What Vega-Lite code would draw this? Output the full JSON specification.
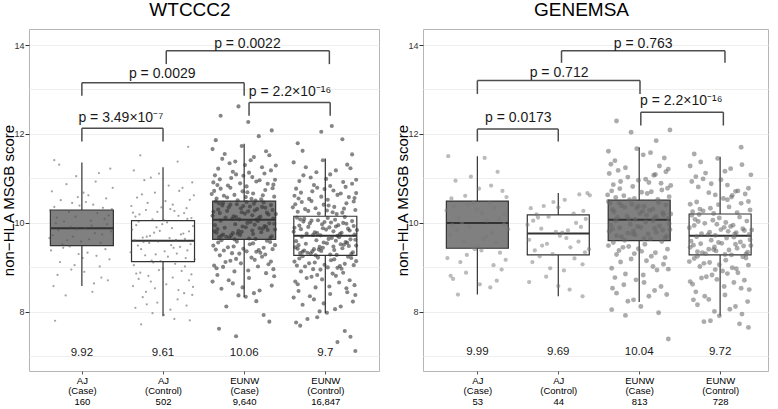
{
"$schema":"https://vega.github.io/schema/vega-lite/v6.json",
"padding":{"left":0,"top":0,"right":2,"bottom":0},
"background":"white",
"spacing":14,
"config":{"font":"Liberation Sans","view":{"stroke":"#b5b5b5","strokeWidth":1}},
"datasets":{
"wb":[{"x":1,"lo":8.58,"q1":9.49,"md":9.88,"q3":10.29,"hi":11.36,"f":"case","lab":"9.92"},{"x":2,"lo":7.9,"q1":9.13,"md":9.6,"q3":10.05,"hi":11.25,"f":"ctrl","lab":"9.61"},{"x":3,"lo":8.33,"q1":9.63,"md":10.07,"q3":10.49,"hi":11.78,"f":"case","lab":"10.06"},{"x":4,"lo":7.97,"q1":9.27,"md":9.71,"q3":10.15,"hi":11.45,"f":"ctrl","lab":"9.7"}],
"gb":[{"x":1,"lo":8.39,"q1":9.43,"md":10.0,"q3":10.49,"hi":11.5,"f":"case","lab":"9.99"},{"x":2,"lo":8.35,"q1":9.28,"md":9.76,"q3":10.18,"hi":10.67,"f":"ctrl","lab":"9.69"},{"x":3,"lo":8.22,"q1":9.6,"md":10.07,"q3":10.51,"hi":11.7,"f":"case","lab":"10.04"},{"x":4,"lo":7.91,"q1":9.28,"md":9.71,"q3":10.2,"hi":11.49,"f":"ctrl","lab":"9.72"}],
"wk":[{"a":1,"b":2,"y":12.13,"y2":11.83,"tx":1.48,"ty":12.26,"t":"p = 3.49×10⁻⁷"},{"a":3.06,"b":4.06,"y":12.71,"y2":12.41,"tx":3.565,"ty":12.86,"t":"p = 2.2×10⁻¹⁶"},{"a":1,"b":3,"y":13.15,"y2":12.86,"tx":1.99,"ty":13.25,"t":"p = 0.0029"},{"a":2.04,"b":4.05,"y":13.87,"y2":13.57,"tx":3.04,"ty":13.93,"t":"p = 0.0022"}],
"gk":[{"a":1,"b":2,"y":12.11,"y2":11.83,"tx":1.506,"ty":12.26,"t":"p = 0.0173"},{"a":3.02,"b":4.04,"y":12.49,"y2":12.19,"tx":3.52,"ty":12.65,"t":"p = 2.2×10⁻¹⁶"},{"a":1,"b":3.01,"y":13.2,"y2":12.9,"tx":2.01,"ty":13.27,"t":"p = 0.712"},{"a":2.04,"b":4.06,"y":13.87,"y2":13.6,"tx":3.05,"ty":13.94,"t":"p = 0.763"}],
"w1":[{"x":0.72,"v":11.31},{"x":1.21,"v":11.12},{"x":0.93,"v":11.05},{"x":1.35,"v":11.22},{"x":0.66,"v":11.41},{"x":1.08,"v":10.62},{"x":0.81,"v":10.87},{"x":1.3,"v":10.55},{"x":0.63,"v":10.71},{"x":1.17,"v":10.93},{"x":0.95,"v":10.58},{"x":1.38,"v":10.79},{"x":0.74,"v":10.51},{"x":1.02,"v":10.68},{"x":0.69,"v":10.12},{"x":1.26,"v":10.34},{"x":0.88,"v":10.45},{"x":1.11,"v":10.05},{"x":0.61,"v":10.28},{"x":1.33,"v":10.17},{"x":0.97,"v":10.39},{"x":1.19,"v":10.22},{"x":0.78,"v":10.03},{"x":1.05,"v":10.47},{"x":0.66,"v":10.36},{"x":1.28,"v":10.09},{"x":0.84,"v":10.25},{"x":1.14,"v":10.41},{"x":0.92,"v":10.14},{"x":1.37,"v":10.31},{"x":0.64,"v":9.72},{"x":1.23,"v":9.55},{"x":0.86,"v":9.91},{"x":1.09,"v":9.63},{"x":0.71,"v":9.84},{"x":1.31,"v":9.97},{"x":0.99,"v":9.58},{"x":1.16,"v":9.77},{"x":0.76,"v":9.52},{"x":1.04,"v":9.88},{"x":0.6,"v":9.66},{"x":1.36,"v":9.81},{"x":0.89,"v":9.69},{"x":1.12,"v":9.94},{"x":0.82,"v":9.61},{"x":1.25,"v":9.74},{"x":0.94,"v":9.86},{"x":0.68,"v":9.99},{"x":1.07,"v":9.33},{"x":0.73,"v":9.12},{"x":1.29,"v":9.41},{"x":0.91,"v":9.05},{"x":1.18,"v":9.26},{"x":0.62,"v":9.38},{"x":1.34,"v":9.18},{"x":0.85,"v":9.47},{"x":1.01,"v":9.21},{"x":0.77,"v":9.44},{"x":1.22,"v":9.02},{"x":0.96,"v":9.3},{"x":0.7,"v":8.83},{"x":1.15,"v":8.64},{"x":0.87,"v":8.95},{"x":1.32,"v":8.71},{"x":0.65,"v":8.58},{"x":1.03,"v":8.9},{"x":1.24,"v":8.77},{"x":0.8,"v":8.37},{"x":1.13,"v":8.45},{"x":0.67,"v":7.8}],
"w2":[{"x":1.72,"v":11.52},{"x":2.18,"v":11.38},{"x":2.31,"v":11.71},{"x":1.85,"v":11.02},{"x":2.07,"v":10.84},{"x":1.64,"v":11.18},{"x":2.36,"v":10.91},{"x":1.95,"v":11.11},{"x":2.24,"v":10.79},{"x":1.77,"v":10.96},{"x":2.12,"v":10.41},{"x":1.68,"v":10.57},{"x":2.29,"v":10.33},{"x":1.9,"v":10.68},{"x":2.03,"v":10.49},{"x":1.61,"v":10.38},{"x":2.38,"v":10.62},{"x":1.81,"v":10.45},{"x":2.2,"v":10.72},{"x":1.98,"v":10.35},{"x":2.33,"v":10.52},{"x":1.74,"v":10.64},{"x":2.09,"v":10.31},{"x":1.66,"v":10.14},{"x":2.26,"v":10.22},{"x":1.87,"v":10.08},{"x":2.14,"v":10.27},{"x":1.71,"v":10.19},{"x":2.35,"v":10.11},{"x":1.93,"v":10.25},{"x":2.01,"v":10.06},{"x":1.79,"v":10.29},{"x":2.19,"v":10.16},{"x":1.63,"v":10.23},{"x":2.3,"v":10.09},{"x":1.84,"v":9.71},{"x":2.11,"v":9.88},{"x":1.67,"v":9.95},{"x":2.27,"v":9.64},{"x":1.96,"v":9.82},{"x":2.05,"v":10.01},{"x":1.75,"v":9.67},{"x":2.37,"v":9.93},{"x":1.89,"v":9.78},{"x":2.16,"v":9.62},{"x":1.62,"v":9.85},{"x":2.22,"v":9.74},{"x":1.99,"v":9.97},{"x":1.8,"v":9.69},{"x":2.32,"v":9.81},{"x":1.7,"v":10.03},{"x":2.08,"v":9.66},{"x":1.92,"v":9.9},{"x":2.25,"v":9.76},{"x":1.65,"v":9.61},{"x":2.13,"v":9.44},{"x":1.78,"v":9.27},{"x":2.34,"v":9.52},{"x":1.86,"v":9.15},{"x":2.02,"v":9.36},{"x":1.69,"v":9.49},{"x":2.28,"v":9.21},{"x":1.94,"v":9.58},{"x":2.17,"v":9.31},{"x":1.73,"v":9.41},{"x":2.39,"v":9.18},{"x":1.83,"v":9.55},{"x":2.06,"v":9.24},{"x":1.6,"v":9.34},{"x":2.21,"v":9.46},{"x":1.97,"v":9.14},{"x":1.76,"v":9.57},{"x":2.3,"v":9.38},{"x":1.91,"v":9.29},{"x":2.1,"v":9.5},{"x":1.64,"v":9.05},{"x":2.23,"v":8.92},{"x":1.88,"v":9.11},{"x":2.35,"v":8.84},{"x":2.0,"v":8.97},{"x":1.72,"v":8.88},{"x":2.15,"v":9.08},{"x":1.82,"v":8.81},{"x":2.27,"v":9.02},{"x":1.95,"v":8.94},{"x":1.67,"v":8.86},{"x":2.04,"v":8.62},{"x":1.79,"v":8.45},{"x":2.32,"v":8.71},{"x":1.9,"v":8.53},{"x":2.12,"v":8.77},{"x":1.63,"v":8.58},{"x":2.26,"v":8.42},{"x":1.85,"v":8.68},{"x":2.19,"v":8.49},{"x":1.7,"v":8.74},{"x":2.37,"v":8.56},{"x":1.93,"v":8.21},{"x":2.09,"v":8.05},{"x":1.75,"v":8.33},{"x":2.29,"v":8.14},{"x":1.87,"v":7.97},{"x":2.18,"v":8.28},{"x":1.66,"v":8.09},{"x":2.36,"v":8.38},{"x":2.01,"v":7.93},{"x":1.8,"v":8.17},{"x":2.14,"v":7.84},{"x":1.73,"v":7.72},{"x":2.33,"v":7.81}],
"w3":[{"x":2.71,"v":12.41},{"x":3.18,"v":11.95},{"x":2.93,"v":12.62},{"x":3.34,"v":12.08},{"x":2.65,"v":11.86},{"x":3.05,"v":12.27},{"x":2.82,"v":11.34},{"x":3.27,"v":11.61},{"x":2.68,"v":11.22},{"x":3.12,"v":11.48},{"x":2.97,"v":11.73},{"x":3.39,"v":11.29},{"x":2.76,"v":11.55},{"x":3.08,"v":11.41},{"x":2.61,"v":11.66},{"x":3.22,"v":11.25},{"x":2.89,"v":11.38},{"x":3.31,"v":11.52},{"x":3.01,"v":11.3},{"x":2.73,"v":11.44},{"x":3.15,"v":10.93},{"x":2.64,"v":11.07},{"x":3.36,"v":10.86},{"x":2.86,"v":11.15},{"x":3.03,"v":10.82},{"x":2.7,"v":10.98},{"x":3.25,"v":11.11},{"x":2.95,"v":10.89},{"x":3.1,"v":11.03},{"x":2.62,"v":10.91},{"x":3.33,"v":11.18},{"x":2.8,"v":10.84},{"x":3.19,"v":10.96},{"x":2.9,"v":11.09},{"x":3.38,"v":10.97},{"x":2.67,"v":10.85},{"x":3.06,"v":11.13},{"x":2.84,"v":11.01},{"x":3.29,"v":10.88},{"x":2.99,"v":11.06},{"x":2.75,"v":10.61},{"x":3.21,"v":10.53},{"x":2.63,"v":10.72},{"x":3.11,"v":10.66},{"x":2.92,"v":10.51},{"x":3.35,"v":10.78},{"x":2.79,"v":10.57},{"x":3.04,"v":10.69},{"x":2.66,"v":10.55},{"x":3.26,"v":10.74},{"x":2.88,"v":10.63},{"x":3.14,"v":10.5},{"x":2.71,"v":10.77},{"x":3.37,"v":10.59},{"x":2.98,"v":10.71},{"x":3.09,"v":10.54},{"x":2.6,"v":10.65},{"x":3.23,"v":10.62},{"x":2.83,"v":10.79},{"x":3.02,"v":10.58},{"x":2.77,"v":10.12},{"x":3.16,"v":10.31},{"x":2.69,"v":10.44},{"x":3.3,"v":10.19},{"x":2.94,"v":10.08},{"x":3.07,"v":10.37},{"x":2.62,"v":10.25},{"x":3.24,"v":10.46},{"x":2.87,"v":10.15},{"x":3.13,"v":10.28},{"x":2.73,"v":10.39},{"x":3.36,"v":10.1},{"x":2.96,"v":10.33},{"x":3.01,"v":10.21},{"x":2.65,"v":10.48},{"x":3.2,"v":10.14},{"x":2.81,"v":10.35},{"x":3.28,"v":10.23},{"x":2.91,"v":10.42},{"x":3.1,"v":10.17},{"x":2.68,"v":10.3},{"x":3.33,"v":10.4},{"x":2.85,"v":10.09},{"x":3.05,"v":10.26},{"x":2.74,"v":10.45},{"x":3.18,"v":10.11},{"x":2.99,"v":10.38},{"x":3.39,"v":10.2},{"x":2.61,"v":10.16},{"x":3.12,"v":10.43},{"x":2.79,"v":10.27},{"x":3.26,"v":10.34},{"x":2.9,"v":10.13},{"x":3.03,"v":10.47},{"x":2.7,"v":10.22},{"x":3.35,"v":10.29},{"x":2.83,"v":10.41},{"x":3.15,"v":10.07},{"x":2.97,"v":10.24},{"x":3.22,"v":10.36},{"x":2.72,"v":9.71},{"x":3.19,"v":9.88},{"x":2.64,"v":9.95},{"x":3.32,"v":9.66},{"x":2.93,"v":9.82},{"x":3.08,"v":10.02},{"x":2.78,"v":9.69},{"x":3.25,"v":9.93},{"x":2.86,"v":9.77},{"x":3.14,"v":9.64},{"x":2.67,"v":9.86},{"x":3.37,"v":9.98},{"x":2.95,"v":9.73},{"x":3.02,"v":9.9},{"x":2.71,"v":10.05},{"x":3.21,"v":9.79},{"x":2.82,"v":9.67},{"x":3.29,"v":9.84},{"x":2.89,"v":9.97},{"x":3.11,"v":9.75},{"x":2.63,"v":9.81},{"x":3.34,"v":9.7},{"x":2.98,"v":9.92},{"x":3.06,"v":9.65},{"x":2.76,"v":9.89},{"x":3.17,"v":10.04},{"x":2.92,"v":9.76},{"x":3.38,"v":9.85},{"x":2.69,"v":9.68},{"x":3.13,"v":9.96},{"x":2.84,"v":9.72},{"x":3.27,"v":9.91},{"x":2.97,"v":9.8},{"x":3.04,"v":10.0},{"x":2.74,"v":9.74},{"x":3.23,"v":9.87},{"x":2.88,"v":9.63},{"x":3.31,"v":9.99},{"x":2.66,"v":9.78},{"x":3.1,"v":9.83},{"x":2.8,"v":9.45},{"x":3.2,"v":9.33},{"x":2.68,"v":9.56},{"x":3.35,"v":9.41},{"x":2.94,"v":9.31},{"x":3.07,"v":9.52},{"x":2.75,"v":9.38},{"x":3.28,"v":9.6},{"x":2.87,"v":9.47},{"x":3.15,"v":9.35},{"x":2.62,"v":9.49},{"x":3.32,"v":9.57},{"x":2.99,"v":9.42},{"x":3.03,"v":9.36},{"x":2.72,"v":9.61},{"x":3.24,"v":9.44},{"x":2.85,"v":9.32},{"x":3.11,"v":9.54},{"x":2.65,"v":9.4},{"x":3.38,"v":9.5},{"x":2.91,"v":9.58},{"x":3.18,"v":9.39},{"x":2.77,"v":9.12},{"x":3.22,"v":9.24},{"x":2.66,"v":8.98},{"x":3.3,"v":9.07},{"x":2.9,"v":9.19},{"x":3.05,"v":8.93},{"x":2.7,"v":9.27},{"x":3.17,"v":9.02},{"x":2.83,"v":9.15},{"x":3.36,"v":8.96},{"x":2.96,"v":9.09},{"x":3.09,"v":9.22},{"x":2.63,"v":9.04},{"x":3.26,"v":9.29},{"x":2.88,"v":8.91},{"x":3.13,"v":9.17},{"x":2.74,"v":9.01},{"x":3.33,"v":9.13},{"x":2.81,"v":8.71},{"x":3.19,"v":8.48},{"x":2.67,"v":8.83},{"x":3.34,"v":8.59},{"x":2.93,"v":8.37},{"x":3.06,"v":8.76},{"x":2.72,"v":8.52},{"x":3.27,"v":8.87},{"x":2.86,"v":8.64},{"x":3.12,"v":8.42},{"x":2.61,"v":8.68},{"x":3.37,"v":8.8},{"x":2.98,"v":8.55},{"x":3.02,"v":8.34},{"x":2.78,"v":8.12},{"x":3.24,"v":7.93},{"x":2.69,"v":7.62},{"x":3.15,"v":8.24},{"x":2.9,"v":7.45},{"x":3.31,"v":7.78}],
"w4":[{"x":3.72,"v":11.62},{"x":4.21,"v":11.88},{"x":3.95,"v":12.05},{"x":4.33,"v":11.54},{"x":3.66,"v":11.79},{"x":4.08,"v":12.18},{"x":3.82,"v":11.02},{"x":4.27,"v":11.31},{"x":3.68,"v":10.94},{"x":4.13,"v":11.18},{"x":3.97,"v":11.41},{"x":4.38,"v":10.97},{"x":3.76,"v":11.25},{"x":4.06,"v":11.09},{"x":3.61,"v":11.36},{"x":4.22,"v":10.92},{"x":3.89,"v":11.14},{"x":4.31,"v":11.23},{"x":4.01,"v":10.99},{"x":3.73,"v":11.07},{"x":4.15,"v":10.63},{"x":3.64,"v":10.77},{"x":4.36,"v":10.56},{"x":3.86,"v":10.85},{"x":4.03,"v":10.52},{"x":3.7,"v":10.68},{"x":4.25,"v":10.81},{"x":3.95,"v":10.59},{"x":4.1,"v":10.73},{"x":3.62,"v":10.61},{"x":4.33,"v":10.88},{"x":3.8,"v":10.54},{"x":4.19,"v":10.66},{"x":3.9,"v":10.79},{"x":4.38,"v":10.67},{"x":3.67,"v":10.55},{"x":4.06,"v":10.83},{"x":3.84,"v":10.71},{"x":4.29,"v":10.58},{"x":3.99,"v":10.76},{"x":3.75,"v":10.31},{"x":4.21,"v":10.23},{"x":3.63,"v":10.42},{"x":4.11,"v":10.36},{"x":3.92,"v":10.21},{"x":4.35,"v":10.48},{"x":3.79,"v":10.27},{"x":4.04,"v":10.39},{"x":3.66,"v":10.25},{"x":4.26,"v":10.44},{"x":3.88,"v":10.33},{"x":4.14,"v":10.2},{"x":3.71,"v":10.47},{"x":4.37,"v":10.29},{"x":3.98,"v":10.41},{"x":4.09,"v":10.24},{"x":3.6,"v":10.35},{"x":4.23,"v":10.32},{"x":3.83,"v":10.49},{"x":4.02,"v":10.28},{"x":3.77,"v":9.76},{"x":4.16,"v":9.95},{"x":3.69,"v":10.08},{"x":4.3,"v":9.83},{"x":3.94,"v":9.72},{"x":4.07,"v":10.01},{"x":3.62,"v":9.89},{"x":4.24,"v":10.13},{"x":3.87,"v":9.79},{"x":4.13,"v":9.92},{"x":3.73,"v":10.03},{"x":4.36,"v":9.74},{"x":3.96,"v":9.97},{"x":4.01,"v":9.85},{"x":3.65,"v":10.12},{"x":4.2,"v":9.78},{"x":3.81,"v":9.99},{"x":4.28,"v":9.87},{"x":3.91,"v":10.06},{"x":4.1,"v":9.81},{"x":3.68,"v":9.94},{"x":4.33,"v":10.04},{"x":3.85,"v":9.73},{"x":4.05,"v":9.9},{"x":3.74,"v":10.09},{"x":4.18,"v":9.75},{"x":3.99,"v":10.02},{"x":4.39,"v":9.84},{"x":3.61,"v":9.8},{"x":4.12,"v":10.07},{"x":3.79,"v":9.91},{"x":4.26,"v":9.98},{"x":3.9,"v":9.77},{"x":4.03,"v":10.11},{"x":3.7,"v":9.86},{"x":4.35,"v":9.93},{"x":3.83,"v":10.05},{"x":4.15,"v":9.71},{"x":3.97,"v":9.88},{"x":4.22,"v":10.0},{"x":3.72,"v":9.35},{"x":4.19,"v":9.52},{"x":3.64,"v":9.59},{"x":4.32,"v":9.3},{"x":3.93,"v":9.46},{"x":4.08,"v":9.66},{"x":3.78,"v":9.33},{"x":4.25,"v":9.57},{"x":3.86,"v":9.41},{"x":4.14,"v":9.28},{"x":3.67,"v":9.5},{"x":4.37,"v":9.62},{"x":3.95,"v":9.37},{"x":4.02,"v":9.54},{"x":3.71,"v":9.69},{"x":4.21,"v":9.43},{"x":3.82,"v":9.31},{"x":4.29,"v":9.48},{"x":3.89,"v":9.61},{"x":4.11,"v":9.39},{"x":3.63,"v":9.45},{"x":4.34,"v":9.34},{"x":3.98,"v":9.56},{"x":4.06,"v":9.29},{"x":3.76,"v":9.53},{"x":4.17,"v":9.68},{"x":3.92,"v":9.4},{"x":4.38,"v":9.49},{"x":3.69,"v":9.32},{"x":4.13,"v":9.6},{"x":3.84,"v":9.36},{"x":4.27,"v":9.55},{"x":3.97,"v":9.44},{"x":4.04,"v":9.64},{"x":3.74,"v":9.38},{"x":4.23,"v":9.51},{"x":3.88,"v":9.27},{"x":4.31,"v":9.63},{"x":3.66,"v":9.42},{"x":4.1,"v":9.47},{"x":3.8,"v":9.09},{"x":4.2,"v":8.97},{"x":3.68,"v":9.2},{"x":4.35,"v":9.05},{"x":3.94,"v":8.95},{"x":4.07,"v":9.16},{"x":3.75,"v":9.02},{"x":4.28,"v":9.24},{"x":3.87,"v":9.11},{"x":4.15,"v":8.99},{"x":3.62,"v":9.13},{"x":4.32,"v":9.21},{"x":3.99,"v":9.06},{"x":4.03,"v":9.0},{"x":3.72,"v":9.25},{"x":4.24,"v":9.08},{"x":3.85,"v":8.96},{"x":4.11,"v":9.18},{"x":3.65,"v":9.04},{"x":4.38,"v":9.14},{"x":3.91,"v":9.22},{"x":4.18,"v":9.03},{"x":3.77,"v":8.76},{"x":4.22,"v":8.88},{"x":3.66,"v":8.62},{"x":4.3,"v":8.71},{"x":3.9,"v":8.83},{"x":4.05,"v":8.57},{"x":3.7,"v":8.91},{"x":4.17,"v":8.66},{"x":3.83,"v":8.79},{"x":4.36,"v":8.6},{"x":3.96,"v":8.73},{"x":4.09,"v":8.86},{"x":3.63,"v":8.68},{"x":4.26,"v":8.53},{"x":3.88,"v":8.55},{"x":4.13,"v":8.81},{"x":3.81,"v":8.35},{"x":4.19,"v":8.12},{"x":3.67,"v":8.47},{"x":4.34,"v":8.23},{"x":3.93,"v":8.01},{"x":4.06,"v":8.4},{"x":3.72,"v":8.16},{"x":4.27,"v":8.44},{"x":3.86,"v":8.28},{"x":4.12,"v":8.06},{"x":3.61,"v":8.32},{"x":4.37,"v":8.38},{"x":3.98,"v":8.19},{"x":4.02,"v":7.98},{"x":3.78,"v":7.84},{"x":4.24,"v":7.57},{"x":3.69,"v":7.69},{"x":4.15,"v":7.32},{"x":3.9,"v":7.88},{"x":4.31,"v":7.44},{"x":4.37,"v":7.12},{"x":3.64,"v":7.76}],
"g1":[{"x":0.64,"v":11.5},{"x":1.09,"v":11.46},{"x":1.25,"v":11.15},{"x":0.92,"v":11.04},{"x":0.73,"v":10.95},{"x":1.31,"v":10.72},{"x":0.85,"v":10.61},{"x":1.17,"v":10.84},{"x":0.68,"v":10.55},{"x":1.02,"v":10.77},{"x":1.36,"v":10.58},{"x":0.77,"v":10.12},{"x":1.21,"v":10.34},{"x":0.95,"v":10.45},{"x":1.12,"v":10.05},{"x":0.62,"v":10.28},{"x":1.34,"v":10.19},{"x":0.88,"v":10.4},{"x":1.06,"v":10.22},{"x":0.71,"v":10.37},{"x":1.27,"v":10.09},{"x":0.99,"v":10.3},{"x":1.15,"v":10.44},{"x":0.81,"v":10.01},{"x":0.66,"v":9.72},{"x":1.23,"v":9.55},{"x":0.9,"v":9.91},{"x":1.07,"v":9.63},{"x":0.75,"v":9.84},{"x":1.33,"v":9.97},{"x":1.0,"v":9.48},{"x":1.18,"v":9.77},{"x":0.83,"v":9.58},{"x":1.38,"v":9.86},{"x":0.69,"v":9.95},{"x":1.11,"v":9.69},{"x":0.94,"v":9.45},{"x":1.28,"v":9.33},{"x":0.79,"v":9.12},{"x":1.05,"v":9.38},{"x":0.63,"v":9.21},{"x":1.2,"v":9.05},{"x":0.87,"v":9.28},{"x":1.35,"v":9.17},{"x":0.97,"v":9.41},{"x":0.7,"v":8.74},{"x":0.76,"v":8.39},{"x":1.16,"v":8.55},{"x":1.24,"v":8.7},{"x":0.86,"v":8.88},{"x":1.03,"v":8.62},{"x":1.3,"v":8.95},{"x":0.67,"v":8.81}],
"g2":[{"x":2.36,"v":10.67},{"x":2.26,"v":10.64},{"x":2.39,"v":10.62},{"x":1.94,"v":10.47},{"x":2.08,"v":10.52},{"x":1.66,"v":10.33},{"x":2.19,"v":10.21},{"x":1.82,"v":10.38},{"x":2.31,"v":10.27},{"x":2.0,"v":10.35},{"x":1.73,"v":10.19},{"x":2.12,"v":9.83},{"x":1.69,"v":10.05},{"x":2.28,"v":9.91},{"x":1.88,"v":10.14},{"x":2.05,"v":9.78},{"x":1.62,"v":9.96},{"x":2.34,"v":10.09},{"x":1.79,"v":9.87},{"x":2.22,"v":10.0},{"x":1.97,"v":9.8},{"x":1.75,"v":10.12},{"x":2.15,"v":9.45},{"x":1.64,"v":9.62},{"x":2.33,"v":9.34},{"x":1.86,"v":9.53},{"x":2.02,"v":9.71},{"x":1.71,"v":9.38},{"x":2.25,"v":9.58},{"x":1.93,"v":9.3},{"x":2.1,"v":9.66},{"x":1.8,"v":9.49},{"x":2.38,"v":9.41},{"x":1.68,"v":9.12},{"x":2.2,"v":9.2},{"x":1.9,"v":8.98},{"x":2.3,"v":9.07},{"x":1.77,"v":9.25},{"x":2.07,"v":8.93},{"x":1.64,"v":8.67},{"x":2.14,"v":8.5},{"x":2.3,"v":8.35},{"x":1.85,"v":8.79},{"x":2.0,"v":8.58}],
"g3":[{"x":2.72,"v":12.29},{"x":2.9,"v":12.04},{"x":3.38,"v":12.09},{"x":3.21,"v":11.85},{"x":2.65,"v":11.32},{"x":3.14,"v":11.58},{"x":2.83,"v":11.24},{"x":3.31,"v":11.46},{"x":2.97,"v":11.67},{"x":2.7,"v":11.4},{"x":3.25,"v":11.28},{"x":3.05,"v":11.53},{"x":2.62,"v":11.61},{"x":3.36,"v":11.21},{"x":2.77,"v":10.93},{"x":3.18,"v":11.07},{"x":2.68,"v":10.86},{"x":3.33,"v":11.15},{"x":2.92,"v":10.82},{"x":3.08,"v":10.98},{"x":2.63,"v":11.11},{"x":3.27,"v":10.89},{"x":2.86,"v":11.03},{"x":3.12,"v":10.91},{"x":2.74,"v":11.18},{"x":3.39,"v":10.84},{"x":2.99,"v":10.96},{"x":3.2,"v":11.09},{"x":2.81,"v":10.61},{"x":3.23,"v":10.53},{"x":2.66,"v":10.72},{"x":3.1,"v":10.66},{"x":2.94,"v":10.55},{"x":3.35,"v":10.78},{"x":2.71,"v":10.57},{"x":3.03,"v":10.69},{"x":2.61,"v":10.63},{"x":3.28,"v":10.74},{"x":2.88,"v":10.52},{"x":3.15,"v":10.7},{"x":2.76,"v":10.77},{"x":3.37,"v":10.59},{"x":2.73,"v":10.12},{"x":3.17,"v":10.31},{"x":2.64,"v":10.44},{"x":3.3,"v":10.19},{"x":2.95,"v":10.08},{"x":3.06,"v":10.37},{"x":2.69,"v":10.25},{"x":3.24,"v":10.46},{"x":2.85,"v":10.15},{"x":3.13,"v":10.28},{"x":2.78,"v":10.39},{"x":3.36,"v":10.1},{"x":2.97,"v":10.33},{"x":3.01,"v":10.21},{"x":2.62,"v":10.48},{"x":3.21,"v":10.14},{"x":2.82,"v":10.35},{"x":3.29,"v":10.23},{"x":2.91,"v":10.42},{"x":3.09,"v":10.17},{"x":2.67,"v":10.3},{"x":3.33,"v":10.4},{"x":2.87,"v":10.09},{"x":3.04,"v":10.26},{"x":2.75,"v":10.45},{"x":3.19,"v":10.11},{"x":2.99,"v":10.38},{"x":3.39,"v":10.2},{"x":2.72,"v":9.71},{"x":3.19,"v":9.88},{"x":2.65,"v":9.95},{"x":3.32,"v":9.66},{"x":2.93,"v":9.82},{"x":3.08,"v":10.02},{"x":2.78,"v":9.69},{"x":3.25,"v":9.93},{"x":2.86,"v":9.77},{"x":3.14,"v":9.64},{"x":2.67,"v":9.86},{"x":3.37,"v":9.98},{"x":2.95,"v":9.73},{"x":3.02,"v":9.9},{"x":2.71,"v":10.05},{"x":3.21,"v":9.79},{"x":2.82,"v":9.61},{"x":3.29,"v":9.84},{"x":2.89,"v":9.97},{"x":3.11,"v":9.75},{"x":2.63,"v":9.81},{"x":3.34,"v":9.7},{"x":2.98,"v":9.92},{"x":3.06,"v":9.65},{"x":2.76,"v":9.89},{"x":3.17,"v":10.04},{"x":2.92,"v":9.76},{"x":3.38,"v":9.85},{"x":2.8,"v":9.45},{"x":3.2,"v":9.33},{"x":2.68,"v":9.56},{"x":3.35,"v":9.41},{"x":2.94,"v":9.31},{"x":3.07,"v":9.52},{"x":2.75,"v":9.38},{"x":3.28,"v":9.58},{"x":2.87,"v":9.47},{"x":3.15,"v":9.25},{"x":2.62,"v":9.49},{"x":3.32,"v":9.22},{"x":2.99,"v":9.42},{"x":3.03,"v":9.36},{"x":2.72,"v":9.29},{"x":2.77,"v":9.12},{"x":3.22,"v":8.94},{"x":2.66,"v":8.98},{"x":3.3,"v":9.07},{"x":2.9,"v":9.19},{"x":3.05,"v":8.83},{"x":2.7,"v":8.77},{"x":3.17,"v":9.02},{"x":2.83,"v":8.85},{"x":3.36,"v":8.96},{"x":2.96,"v":8.72},{"x":3.09,"v":9.15},{"x":2.81,"v":8.61},{"x":3.19,"v":8.48},{"x":2.67,"v":8.53},{"x":3.34,"v":8.39},{"x":2.93,"v":8.27},{"x":3.06,"v":8.66},{"x":2.72,"v":8.42},{"x":3.27,"v":8.57},{"x":2.86,"v":8.24},{"x":3.12,"v":8.35},{"x":2.83,"v":7.92},{"x":3.36,"v":7.39},{"x":3.02,"v":8.12},{"x":2.66,"v":8.05},{"x":3.24,"v":7.98}],
"g4":[{"x":4.26,"v":11.7},{"x":3.68,"v":11.55},{"x":3.82,"v":11.12},{"x":4.27,"v":11.31},{"x":3.7,"v":11.04},{"x":4.13,"v":11.22},{"x":3.97,"v":11.45},{"x":4.38,"v":11.08},{"x":3.76,"v":11.37},{"x":4.06,"v":11.16},{"x":3.63,"v":11.28},{"x":4.22,"v":10.72},{"x":3.89,"v":10.88},{"x":4.31,"v":10.65},{"x":4.01,"v":10.97},{"x":3.73,"v":10.81},{"x":4.15,"v":10.62},{"x":3.65,"v":10.93},{"x":4.35,"v":10.78},{"x":3.86,"v":10.68},{"x":4.09,"v":10.85},{"x":3.79,"v":10.99},{"x":4.19,"v":10.71},{"x":3.94,"v":10.63},{"x":3.75,"v":10.31},{"x":4.21,"v":10.23},{"x":3.63,"v":10.42},{"x":4.11,"v":10.36},{"x":3.92,"v":10.21},{"x":4.35,"v":10.48},{"x":3.79,"v":10.27},{"x":4.04,"v":10.55},{"x":3.66,"v":10.25},{"x":4.26,"v":10.44},{"x":3.88,"v":10.33},{"x":4.14,"v":10.58},{"x":3.71,"v":10.47},{"x":4.37,"v":10.29},{"x":3.98,"v":10.41},{"x":4.09,"v":10.52},{"x":3.77,"v":9.76},{"x":4.16,"v":9.95},{"x":3.69,"v":10.08},{"x":4.3,"v":9.83},{"x":3.94,"v":9.72},{"x":4.07,"v":10.01},{"x":3.62,"v":9.89},{"x":4.24,"v":10.13},{"x":3.87,"v":9.79},{"x":4.13,"v":9.92},{"x":3.73,"v":10.03},{"x":4.36,"v":9.74},{"x":3.96,"v":9.97},{"x":4.01,"v":9.85},{"x":3.65,"v":10.17},{"x":4.2,"v":9.78},{"x":3.81,"v":9.99},{"x":4.28,"v":9.87},{"x":3.91,"v":10.06},{"x":4.1,"v":9.81},{"x":3.68,"v":9.94},{"x":4.33,"v":10.04},{"x":3.85,"v":9.73},{"x":4.05,"v":9.9},{"x":3.74,"v":10.19},{"x":4.18,"v":9.75},{"x":3.99,"v":10.11},{"x":4.39,"v":9.84},{"x":3.72,"v":9.35},{"x":4.19,"v":9.52},{"x":3.64,"v":9.59},{"x":4.32,"v":9.3},{"x":3.93,"v":9.46},{"x":4.08,"v":9.66},{"x":3.78,"v":9.33},{"x":4.25,"v":9.57},{"x":3.86,"v":9.41},{"x":4.14,"v":9.28},{"x":3.67,"v":9.5},{"x":4.37,"v":9.62},{"x":3.95,"v":9.37},{"x":4.02,"v":9.54},{"x":3.71,"v":9.69},{"x":4.21,"v":9.43},{"x":3.82,"v":9.31},{"x":4.29,"v":9.48},{"x":3.89,"v":9.61},{"x":4.11,"v":9.39},{"x":3.63,"v":9.45},{"x":4.34,"v":9.34},{"x":3.98,"v":9.56},{"x":4.06,"v":9.29},{"x":3.76,"v":9.53},{"x":4.17,"v":9.68},{"x":3.92,"v":9.4},{"x":4.38,"v":9.49},{"x":3.8,"v":9.09},{"x":4.2,"v":8.97},{"x":3.68,"v":9.2},{"x":4.35,"v":9.05},{"x":3.94,"v":8.95},{"x":4.07,"v":9.16},{"x":3.75,"v":9.02},{"x":4.28,"v":9.24},{"x":3.87,"v":9.11},{"x":4.15,"v":8.99},{"x":3.62,"v":9.13},{"x":4.32,"v":9.21},{"x":3.99,"v":9.06},{"x":4.03,"v":8.92},{"x":3.72,"v":9.25},{"x":3.77,"v":8.76},{"x":4.22,"v":8.88},{"x":3.66,"v":8.62},{"x":4.3,"v":8.71},{"x":3.9,"v":8.83},{"x":4.05,"v":8.57},{"x":3.7,"v":8.45},{"x":4.17,"v":8.66},{"x":3.83,"v":8.79},{"x":4.36,"v":8.5},{"x":3.96,"v":8.73},{"x":4.09,"v":8.86},{"x":3.63,"v":8.68},{"x":4.26,"v":8.53},{"x":3.81,"v":8.35},{"x":4.19,"v":8.12},{"x":3.67,"v":8.27},{"x":4.34,"v":8.23},{"x":3.93,"v":8.01},{"x":4.06,"v":8.38},{"x":3.72,"v":8.16},{"x":4.27,"v":7.95},{"x":3.86,"v":8.28},{"x":4.12,"v":8.06},{"x":3.99,"v":7.91},{"x":4.24,"v":7.73},{"x":3.8,"v":7.78},{"x":3.88,"v":7.8},{"x":4.35,"v":7.65}]
},
"hconcat":[
{"width":350,"height":342,
"title":{"text":"WTCCC2","fontSize":19,"fontWeight":"normal","frame":"bounds","anchor":"middle","offset":9,"color":"#000"},
"layer":[
{"data":{"name":"wb"},"mark":{"type":"bar","size":63,"stroke":"#333","strokeWidth":1.2},
"encoding":{"x":{"field":"x","type":"quantitative","scale":{"domain":[0.41,4.6],"nice":false,"zero":false},
"axis":{"values":[1,2,3,4],"title":null,"grid":false,"domain":false,"tickSize":3,"tickColor":"#555","labelFontSize":9.5,"labelLineHeight":10.5,"labelColor":"#000","labelPadding":1,"labelFlush":false,"labelOverlap":false,"labelBaseline":"top",
"labelExpr":"datum.value == 1 ? ['AJ','(Case)','160'] : datum.value == 2 ? ['AJ','(Control)','502'] : datum.value == 3 ? ['EUNW','(Case)','9,640'] : ['EUNW','(Control)','16,847']"}},
"y":{"field":"q1","type":"quantitative","scale":{"domain":[6.67,14.36],"nice":false,"zero":false},
"axis":{"values":[7,8,9,10,11,12,13,14],"grid":true,"gridColor":"#efefef","domain":false,"tickSize":4,"tickColor":{"condition":{"test":"datum.value % 2 == 0","value":"#333"},"value":"transparent"},"labelExpr":"datum.value % 2 == 0 ? datum.label : ''","labelFontSize":9,"labelColor":"#333","labelPadding":1,"minExtent":12,"maxExtent":12,"title":"non−HLA MSGB score","titleFontSize":15,"titleFontWeight":"normal","titleColor":"#000","titlePadding":1}},
"y2":{"field":"q3"},
"fill":{"field":"f","type":"nominal","scale":{"domain":["case","ctrl"],"range":["#808080","#ffffff"]},"legend":null}}},
{"data":{"name":"wb"},"mark":{"type":"rule","color":"#333","strokeWidth":1.2},"encoding":{"x":{"field":"x","type":"quantitative"},"y":{"field":"lo","type":"quantitative"},"y2":{"field":"q1"}}},
{"data":{"name":"wb"},"mark":{"type":"rule","color":"#333","strokeWidth":1.2},"encoding":{"x":{"field":"x","type":"quantitative"},"y":{"field":"q3","type":"quantitative"},"y2":{"field":"hi"}}},
{"data":{"name":"wb"},"mark":{"type":"bar","size":63,"fill":null,"stroke":"#333","strokeWidth":2},"encoding":{"x":{"field":"x","type":"quantitative"},"y":{"field":"md","type":"quantitative"},"y2":{"field":"md"}}},
{"data":{"name":"w1"},"mark":{"type":"circle","size":5,"color":"#555","opacity":0.55},"encoding":{"x":{"field":"x","type":"quantitative"},"y":{"field":"v","type":"quantitative"}}},
{"data":{"name":"w2"},"mark":{"type":"circle","size":5,"color":"#555","opacity":0.55},"encoding":{"x":{"field":"x","type":"quantitative"},"y":{"field":"v","type":"quantitative"}}},
{"data":{"name":"w3"},"mark":{"type":"circle","size":17,"color":"#333","opacity":0.6},"encoding":{"x":{"field":"x","type":"quantitative"},"y":{"field":"v","type":"quantitative"}}},
{"data":{"name":"w4"},"mark":{"type":"circle","size":17,"color":"#333","opacity":0.6},"encoding":{"x":{"field":"x","type":"quantitative"},"y":{"field":"v","type":"quantitative"}}},
{"data":{"name":"wk"},"mark":{"type":"rule","color":"#4d4d4d","strokeWidth":1.5},"encoding":{"x":{"field":"a","type":"quantitative"},"x2":{"field":"b"},"y":{"field":"y","type":"quantitative"}}},
{"data":{"name":"wk"},"mark":{"type":"rule","color":"#4d4d4d","strokeWidth":1.5},"encoding":{"x":{"field":"a","type":"quantitative"},"y":{"field":"y","type":"quantitative"},"y2":{"field":"y2"}}},
{"data":{"name":"wk"},"mark":{"type":"rule","color":"#4d4d4d","strokeWidth":1.5},"encoding":{"x":{"field":"b","type":"quantitative"},"y":{"field":"y","type":"quantitative"},"y2":{"field":"y2"}}},
{"data":{"name":"wk"},"mark":{"type":"text","fontSize":14,"color":"#1a1a1a","align":"center","baseline":"alphabetic"},"encoding":{"x":{"field":"tx","type":"quantitative"},"y":{"field":"ty","type":"quantitative"},"text":{"field":"t"}}},
{"data":{"name":"wb"},"mark":{"type":"text","fontSize":11.5,"color":"#1a1a1a","align":"center","baseline":"alphabetic"},"encoding":{"x":{"field":"x","type":"quantitative"},"y":{"datum":7.0,"type":"quantitative"},"text":{"field":"lab"}}}
]},
{"width":345,"height":342,
"title":{"text":"GENEMSA","fontSize":19,"fontWeight":"normal","frame":"bounds","anchor":"middle","offset":9,"color":"#000"},
"layer":[
{"data":{"name":"gb"},"mark":{"type":"bar","size":62,"stroke":"#333","strokeWidth":1.2},
"encoding":{"x":{"field":"x","type":"quantitative","scale":{"domain":[0.39,4.53],"nice":false,"zero":false},
"axis":{"values":[1,2,3,4],"title":null,"grid":false,"domain":false,"tickSize":3,"tickColor":"#555","labelFontSize":9.5,"labelLineHeight":10.5,"labelColor":"#000","labelPadding":1,"labelFlush":false,"labelOverlap":false,"labelBaseline":"top",
"labelExpr":"datum.value == 1 ? ['AJ','(Case)','53'] : datum.value == 2 ? ['AJ','(Control)','44'] : datum.value == 3 ? ['EUNW','(Case)','813'] : ['EUNW','(Control)','728']"}},
"y":{"field":"q1","type":"quantitative","scale":{"domain":[6.67,14.36],"nice":false,"zero":false},
"axis":{"values":[7,8,9,10,11,12,13,14],"grid":true,"gridColor":"#efefef","domain":false,"tickSize":4,"tickColor":{"condition":{"test":"datum.value % 2 == 0","value":"#333"},"value":"transparent"},"labelExpr":"datum.value % 2 == 0 ? datum.label : ''","labelFontSize":9,"labelColor":"#333","labelPadding":1,"minExtent":12,"maxExtent":12,"title":"non−HLA MSGB score","titleFontSize":15,"titleFontWeight":"normal","titleColor":"#000","titlePadding":1}},
"y2":{"field":"q3"},
"fill":{"field":"f","type":"nominal","scale":{"domain":["case","ctrl"],"range":["#808080","#ffffff"]},"legend":null}}},
{"data":{"name":"gb"},"mark":{"type":"rule","color":"#333","strokeWidth":1.2},"encoding":{"x":{"field":"x","type":"quantitative"},"y":{"field":"lo","type":"quantitative"},"y2":{"field":"q1"}}},
{"data":{"name":"gb"},"mark":{"type":"rule","color":"#333","strokeWidth":1.2},"encoding":{"x":{"field":"x","type":"quantitative"},"y":{"field":"q3","type":"quantitative"},"y2":{"field":"hi"}}},
{"data":{"name":"gb"},"mark":{"type":"bar","size":62,"fill":null,"stroke":"#333","strokeWidth":2},"encoding":{"x":{"field":"x","type":"quantitative"},"y":{"field":"md","type":"quantitative"},"y2":{"field":"md"}}},
{"data":{"name":"g1"},"mark":{"type":"circle","size":18,"color":"#777","opacity":0.5},"encoding":{"x":{"field":"x","type":"quantitative"},"y":{"field":"v","type":"quantitative"}}},
{"data":{"name":"g2"},"mark":{"type":"circle","size":18,"color":"#777","opacity":0.5},"encoding":{"x":{"field":"x","type":"quantitative"},"y":{"field":"v","type":"quantitative"}}},
{"data":{"name":"g3"},"mark":{"type":"circle","size":24,"color":"#666","opacity":0.55},"encoding":{"x":{"field":"x","type":"quantitative"},"y":{"field":"v","type":"quantitative"}}},
{"data":{"name":"g4"},"mark":{"type":"circle","size":24,"color":"#666","opacity":0.55},"encoding":{"x":{"field":"x","type":"quantitative"},"y":{"field":"v","type":"quantitative"}}},
{"data":{"name":"gk"},"mark":{"type":"rule","color":"#4d4d4d","strokeWidth":1.5},"encoding":{"x":{"field":"a","type":"quantitative"},"x2":{"field":"b"},"y":{"field":"y","type":"quantitative"}}},
{"data":{"name":"gk"},"mark":{"type":"rule","color":"#4d4d4d","strokeWidth":1.5},"encoding":{"x":{"field":"a","type":"quantitative"},"y":{"field":"y","type":"quantitative"},"y2":{"field":"y2"}}},
{"data":{"name":"gk"},"mark":{"type":"rule","color":"#4d4d4d","strokeWidth":1.5},"encoding":{"x":{"field":"b","type":"quantitative"},"y":{"field":"y","type":"quantitative"},"y2":{"field":"y2"}}},
{"data":{"name":"gk"},"mark":{"type":"text","fontSize":14,"color":"#1a1a1a","align":"center","baseline":"alphabetic"},"encoding":{"x":{"field":"tx","type":"quantitative"},"y":{"field":"ty","type":"quantitative"},"text":{"field":"t"}}},
{"data":{"name":"gb"},"mark":{"type":"text","fontSize":11.5,"color":"#1a1a1a","align":"center","baseline":"alphabetic"},"encoding":{"x":{"field":"x","type":"quantitative"},"y":{"datum":7.03,"type":"quantitative"},"text":{"field":"lab"}}}
]}
]
}
